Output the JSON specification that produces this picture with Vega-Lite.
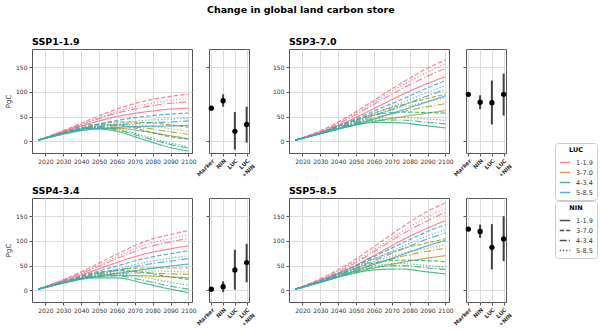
{
"$schema":"https://vega.github.io/schema/vega-lite/v6.json",
"padding":{"left":4,"top":4,"right":0,"bottom":0},
"title":{"text":"Change in global land carbon store","fontSize":9.5,"fontWeight":"bold","anchor":"middle","frame":"bounds","offset":22,"color":"#000"},
"config":{
"font":"DejaVu Sans",
"view":{"stroke":"#555","strokeWidth":1},
"axis":{"labelFontSize":6,"labelColor":"#333","domain":false,"grid":true,"gridColor":"#dcdcdc","gridWidth":1,"tickColor":"#555","tickSize":3,"labelPadding":2,"titleFontSize":7,"titleFontWeight":"normal","titleColor":"#333"},
"title":{"fontSize":9.5,"fontWeight":"bold","anchor":"start","frame":"group","offset":3,"color":"#000"},
"legend":{"orient":"none","strokeColor":"#cccccc","fillColor":"white","padding":4,"cornerRadius":3,"titleFontSize":6.5,"titleFontWeight":"bold","titleAnchor":"middle","titlePadding":3,"labelFontSize":6.5,"labelColor":"#333","labelOffset":5,"symbolType":"stroke","symbolSize":110,"symbolStrokeWidth":1.5,"rowPadding":0}
},
"datasets":{
"lines":[
{"ssp":"SSP1-1.9","luc":"1-1.9","nin":"1-1.9","year":2016,"pgc":2},{"ssp":"SSP1-1.9","luc":"1-1.9","nin":"1-1.9","year":2030,"pgc":19},{"ssp":"SSP1-1.9","luc":"1-1.9","nin":"1-1.9","year":2045,"pgc":36},{"ssp":"SSP1-1.9","luc":"1-1.9","nin":"1-1.9","year":2060,"pgc":50},{"ssp":"SSP1-1.9","luc":"1-1.9","nin":"1-1.9","year":2075,"pgc":59},{"ssp":"SSP1-1.9","luc":"1-1.9","nin":"1-1.9","year":2090,"pgc":65},{"ssp":"SSP1-1.9","luc":"1-1.9","nin":"1-1.9","year":2100,"pgc":67},
{"ssp":"SSP1-1.9","luc":"1-1.9","nin":"3-7.0","year":2016,"pgc":2},{"ssp":"SSP1-1.9","luc":"1-1.9","nin":"3-7.0","year":2030,"pgc":21},{"ssp":"SSP1-1.9","luc":"1-1.9","nin":"3-7.0","year":2045,"pgc":44},{"ssp":"SSP1-1.9","luc":"1-1.9","nin":"3-7.0","year":2060,"pgc":65},{"ssp":"SSP1-1.9","luc":"1-1.9","nin":"3-7.0","year":2075,"pgc":81},{"ssp":"SSP1-1.9","luc":"1-1.9","nin":"3-7.0","year":2090,"pgc":91},{"ssp":"SSP1-1.9","luc":"1-1.9","nin":"3-7.0","year":2100,"pgc":95},
{"ssp":"SSP1-1.9","luc":"1-1.9","nin":"4-3.4","year":2016,"pgc":2},{"ssp":"SSP1-1.9","luc":"1-1.9","nin":"4-3.4","year":2030,"pgc":20},{"ssp":"SSP1-1.9","luc":"1-1.9","nin":"4-3.4","year":2045,"pgc":40},{"ssp":"SSP1-1.9","luc":"1-1.9","nin":"4-3.4","year":2060,"pgc":57},{"ssp":"SSP1-1.9","luc":"1-1.9","nin":"4-3.4","year":2075,"pgc":69},{"ssp":"SSP1-1.9","luc":"1-1.9","nin":"4-3.4","year":2090,"pgc":77},{"ssp":"SSP1-1.9","luc":"1-1.9","nin":"4-3.4","year":2100,"pgc":80},
{"ssp":"SSP1-1.9","luc":"1-1.9","nin":"5-8.5","year":2016,"pgc":2},{"ssp":"SSP1-1.9","luc":"1-1.9","nin":"5-8.5","year":2030,"pgc":21},{"ssp":"SSP1-1.9","luc":"1-1.9","nin":"5-8.5","year":2045,"pgc":41},{"ssp":"SSP1-1.9","luc":"1-1.9","nin":"5-8.5","year":2060,"pgc":60},{"ssp":"SSP1-1.9","luc":"1-1.9","nin":"5-8.5","year":2075,"pgc":74},{"ssp":"SSP1-1.9","luc":"1-1.9","nin":"5-8.5","year":2090,"pgc":83},{"ssp":"SSP1-1.9","luc":"1-1.9","nin":"5-8.5","year":2100,"pgc":86},
{"ssp":"SSP1-1.9","luc":"3-7.0","nin":"1-1.9","year":2016,"pgc":2},{"ssp":"SSP1-1.9","luc":"3-7.0","nin":"1-1.9","year":2030,"pgc":14},{"ssp":"SSP1-1.9","luc":"3-7.0","nin":"1-1.9","year":2045,"pgc":24},{"ssp":"SSP1-1.9","luc":"3-7.0","nin":"1-1.9","year":2060,"pgc":26},{"ssp":"SSP1-1.9","luc":"3-7.0","nin":"1-1.9","year":2075,"pgc":20},{"ssp":"SSP1-1.9","luc":"3-7.0","nin":"1-1.9","year":2090,"pgc":11},{"ssp":"SSP1-1.9","luc":"3-7.0","nin":"1-1.9","year":2100,"pgc":5},
{"ssp":"SSP1-1.9","luc":"3-7.0","nin":"3-7.0","year":2016,"pgc":2},{"ssp":"SSP1-1.9","luc":"3-7.0","nin":"3-7.0","year":2030,"pgc":16},{"ssp":"SSP1-1.9","luc":"3-7.0","nin":"3-7.0","year":2045,"pgc":30},{"ssp":"SSP1-1.9","luc":"3-7.0","nin":"3-7.0","year":2060,"pgc":39},{"ssp":"SSP1-1.9","luc":"3-7.0","nin":"3-7.0","year":2075,"pgc":38},{"ssp":"SSP1-1.9","luc":"3-7.0","nin":"3-7.0","year":2090,"pgc":33},{"ssp":"SSP1-1.9","luc":"3-7.0","nin":"3-7.0","year":2100,"pgc":28},
{"ssp":"SSP1-1.9","luc":"3-7.0","nin":"4-3.4","year":2016,"pgc":2},{"ssp":"SSP1-1.9","luc":"3-7.0","nin":"4-3.4","year":2030,"pgc":15},{"ssp":"SSP1-1.9","luc":"3-7.0","nin":"4-3.4","year":2045,"pgc":27},{"ssp":"SSP1-1.9","luc":"3-7.0","nin":"4-3.4","year":2060,"pgc":31},{"ssp":"SSP1-1.9","luc":"3-7.0","nin":"4-3.4","year":2075,"pgc":27},{"ssp":"SSP1-1.9","luc":"3-7.0","nin":"4-3.4","year":2090,"pgc":19},{"ssp":"SSP1-1.9","luc":"3-7.0","nin":"4-3.4","year":2100,"pgc":14},
{"ssp":"SSP1-1.9","luc":"3-7.0","nin":"5-8.5","year":2016,"pgc":2},{"ssp":"SSP1-1.9","luc":"3-7.0","nin":"5-8.5","year":2030,"pgc":15},{"ssp":"SSP1-1.9","luc":"3-7.0","nin":"5-8.5","year":2045,"pgc":28},{"ssp":"SSP1-1.9","luc":"3-7.0","nin":"5-8.5","year":2060,"pgc":34},{"ssp":"SSP1-1.9","luc":"3-7.0","nin":"5-8.5","year":2075,"pgc":32},{"ssp":"SSP1-1.9","luc":"3-7.0","nin":"5-8.5","year":2090,"pgc":25},{"ssp":"SSP1-1.9","luc":"3-7.0","nin":"5-8.5","year":2100,"pgc":20},
{"ssp":"SSP1-1.9","luc":"4-3.4","nin":"1-1.9","year":2016,"pgc":2},{"ssp":"SSP1-1.9","luc":"4-3.4","nin":"1-1.9","year":2030,"pgc":16},{"ssp":"SSP1-1.9","luc":"4-3.4","nin":"1-1.9","year":2045,"pgc":26},{"ssp":"SSP1-1.9","luc":"4-3.4","nin":"1-1.9","year":2060,"pgc":20},{"ssp":"SSP1-1.9","luc":"4-3.4","nin":"1-1.9","year":2075,"pgc":3},{"ssp":"SSP1-1.9","luc":"4-3.4","nin":"1-1.9","year":2090,"pgc":-13},{"ssp":"SSP1-1.9","luc":"4-3.4","nin":"1-1.9","year":2100,"pgc":-20},
{"ssp":"SSP1-1.9","luc":"4-3.4","nin":"3-7.0","year":2016,"pgc":2},{"ssp":"SSP1-1.9","luc":"4-3.4","nin":"3-7.0","year":2030,"pgc":18},{"ssp":"SSP1-1.9","luc":"4-3.4","nin":"3-7.0","year":2045,"pgc":33},{"ssp":"SSP1-1.9","luc":"4-3.4","nin":"3-7.0","year":2060,"pgc":33},{"ssp":"SSP1-1.9","luc":"4-3.4","nin":"3-7.0","year":2075,"pgc":22},{"ssp":"SSP1-1.9","luc":"4-3.4","nin":"3-7.0","year":2090,"pgc":9},{"ssp":"SSP1-1.9","luc":"4-3.4","nin":"3-7.0","year":2100,"pgc":4},
{"ssp":"SSP1-1.9","luc":"4-3.4","nin":"4-3.4","year":2016,"pgc":2},{"ssp":"SSP1-1.9","luc":"4-3.4","nin":"4-3.4","year":2030,"pgc":16},{"ssp":"SSP1-1.9","luc":"4-3.4","nin":"4-3.4","year":2045,"pgc":28},{"ssp":"SSP1-1.9","luc":"4-3.4","nin":"4-3.4","year":2060,"pgc":23},{"ssp":"SSP1-1.9","luc":"4-3.4","nin":"4-3.4","year":2075,"pgc":8},{"ssp":"SSP1-1.9","luc":"4-3.4","nin":"4-3.4","year":2090,"pgc":-7},{"ssp":"SSP1-1.9","luc":"4-3.4","nin":"4-3.4","year":2100,"pgc":-14},
{"ssp":"SSP1-1.9","luc":"4-3.4","nin":"5-8.5","year":2016,"pgc":2},{"ssp":"SSP1-1.9","luc":"4-3.4","nin":"5-8.5","year":2030,"pgc":17},{"ssp":"SSP1-1.9","luc":"4-3.4","nin":"5-8.5","year":2045,"pgc":29},{"ssp":"SSP1-1.9","luc":"4-3.4","nin":"5-8.5","year":2060,"pgc":25},{"ssp":"SSP1-1.9","luc":"4-3.4","nin":"5-8.5","year":2075,"pgc":11},{"ssp":"SSP1-1.9","luc":"4-3.4","nin":"5-8.5","year":2090,"pgc":-4},{"ssp":"SSP1-1.9","luc":"4-3.4","nin":"5-8.5","year":2100,"pgc":-10},
{"ssp":"SSP1-1.9","luc":"5-8.5","nin":"1-1.9","year":2016,"pgc":2},{"ssp":"SSP1-1.9","luc":"5-8.5","nin":"1-1.9","year":2030,"pgc":15},{"ssp":"SSP1-1.9","luc":"5-8.5","nin":"1-1.9","year":2045,"pgc":24},{"ssp":"SSP1-1.9","luc":"5-8.5","nin":"1-1.9","year":2060,"pgc":28},{"ssp":"SSP1-1.9","luc":"5-8.5","nin":"1-1.9","year":2075,"pgc":30},{"ssp":"SSP1-1.9","luc":"5-8.5","nin":"1-1.9","year":2090,"pgc":31},{"ssp":"SSP1-1.9","luc":"5-8.5","nin":"1-1.9","year":2100,"pgc":32},
{"ssp":"SSP1-1.9","luc":"5-8.5","nin":"3-7.0","year":2016,"pgc":2},{"ssp":"SSP1-1.9","luc":"5-8.5","nin":"3-7.0","year":2030,"pgc":17},{"ssp":"SSP1-1.9","luc":"5-8.5","nin":"3-7.0","year":2045,"pgc":31},{"ssp":"SSP1-1.9","luc":"5-8.5","nin":"3-7.0","year":2060,"pgc":42},{"ssp":"SSP1-1.9","luc":"5-8.5","nin":"3-7.0","year":2075,"pgc":50},{"ssp":"SSP1-1.9","luc":"5-8.5","nin":"3-7.0","year":2090,"pgc":55},{"ssp":"SSP1-1.9","luc":"5-8.5","nin":"3-7.0","year":2100,"pgc":57},
{"ssp":"SSP1-1.9","luc":"5-8.5","nin":"4-3.4","year":2016,"pgc":2},{"ssp":"SSP1-1.9","luc":"5-8.5","nin":"4-3.4","year":2030,"pgc":16},{"ssp":"SSP1-1.9","luc":"5-8.5","nin":"4-3.4","year":2045,"pgc":27},{"ssp":"SSP1-1.9","luc":"5-8.5","nin":"4-3.4","year":2060,"pgc":33},{"ssp":"SSP1-1.9","luc":"5-8.5","nin":"4-3.4","year":2075,"pgc":37},{"ssp":"SSP1-1.9","luc":"5-8.5","nin":"4-3.4","year":2090,"pgc":39},{"ssp":"SSP1-1.9","luc":"5-8.5","nin":"4-3.4","year":2100,"pgc":41},
{"ssp":"SSP1-1.9","luc":"5-8.5","nin":"5-8.5","year":2016,"pgc":2},{"ssp":"SSP1-1.9","luc":"5-8.5","nin":"5-8.5","year":2030,"pgc":16},{"ssp":"SSP1-1.9","luc":"5-8.5","nin":"5-8.5","year":2045,"pgc":28},{"ssp":"SSP1-1.9","luc":"5-8.5","nin":"5-8.5","year":2060,"pgc":36},{"ssp":"SSP1-1.9","luc":"5-8.5","nin":"5-8.5","year":2075,"pgc":42},{"ssp":"SSP1-1.9","luc":"5-8.5","nin":"5-8.5","year":2090,"pgc":45},{"ssp":"SSP1-1.9","luc":"5-8.5","nin":"5-8.5","year":2100,"pgc":47},

{"ssp":"SSP3-7.0","luc":"1-1.9","nin":"1-1.9","year":2016,"pgc":2},{"ssp":"SSP3-7.0","luc":"1-1.9","nin":"1-1.9","year":2030,"pgc":18},{"ssp":"SSP3-7.0","luc":"1-1.9","nin":"1-1.9","year":2045,"pgc":40},{"ssp":"SSP3-7.0","luc":"1-1.9","nin":"1-1.9","year":2060,"pgc":66},{"ssp":"SSP3-7.0","luc":"1-1.9","nin":"1-1.9","year":2075,"pgc":93},{"ssp":"SSP3-7.0","luc":"1-1.9","nin":"1-1.9","year":2090,"pgc":117},{"ssp":"SSP3-7.0","luc":"1-1.9","nin":"1-1.9","year":2100,"pgc":131},
{"ssp":"SSP3-7.0","luc":"1-1.9","nin":"3-7.0","year":2016,"pgc":2},{"ssp":"SSP3-7.0","luc":"1-1.9","nin":"3-7.0","year":2030,"pgc":21},{"ssp":"SSP3-7.0","luc":"1-1.9","nin":"3-7.0","year":2045,"pgc":49},{"ssp":"SSP3-7.0","luc":"1-1.9","nin":"3-7.0","year":2060,"pgc":83},{"ssp":"SSP3-7.0","luc":"1-1.9","nin":"3-7.0","year":2075,"pgc":117},{"ssp":"SSP3-7.0","luc":"1-1.9","nin":"3-7.0","year":2090,"pgc":148},{"ssp":"SSP3-7.0","luc":"1-1.9","nin":"3-7.0","year":2100,"pgc":165},
{"ssp":"SSP3-7.0","luc":"1-1.9","nin":"4-3.4","year":2016,"pgc":2},{"ssp":"SSP3-7.0","luc":"1-1.9","nin":"4-3.4","year":2030,"pgc":19},{"ssp":"SSP3-7.0","luc":"1-1.9","nin":"4-3.4","year":2045,"pgc":44},{"ssp":"SSP3-7.0","luc":"1-1.9","nin":"4-3.4","year":2060,"pgc":75},{"ssp":"SSP3-7.0","luc":"1-1.9","nin":"4-3.4","year":2075,"pgc":105},{"ssp":"SSP3-7.0","luc":"1-1.9","nin":"4-3.4","year":2090,"pgc":132},{"ssp":"SSP3-7.0","luc":"1-1.9","nin":"4-3.4","year":2100,"pgc":148},
{"ssp":"SSP3-7.0","luc":"1-1.9","nin":"5-8.5","year":2016,"pgc":2},{"ssp":"SSP3-7.0","luc":"1-1.9","nin":"5-8.5","year":2030,"pgc":20},{"ssp":"SSP3-7.0","luc":"1-1.9","nin":"5-8.5","year":2045,"pgc":47},{"ssp":"SSP3-7.0","luc":"1-1.9","nin":"5-8.5","year":2060,"pgc":79},{"ssp":"SSP3-7.0","luc":"1-1.9","nin":"5-8.5","year":2075,"pgc":112},{"ssp":"SSP3-7.0","luc":"1-1.9","nin":"5-8.5","year":2090,"pgc":140},{"ssp":"SSP3-7.0","luc":"1-1.9","nin":"5-8.5","year":2100,"pgc":157},
{"ssp":"SSP3-7.0","luc":"3-7.0","nin":"1-1.9","year":2016,"pgc":2},{"ssp":"SSP3-7.0","luc":"3-7.0","nin":"1-1.9","year":2030,"pgc":15},{"ssp":"SSP3-7.0","luc":"3-7.0","nin":"1-1.9","year":2045,"pgc":29},{"ssp":"SSP3-7.0","luc":"3-7.0","nin":"1-1.9","year":2060,"pgc":40},{"ssp":"SSP3-7.0","luc":"3-7.0","nin":"1-1.9","year":2075,"pgc":49},{"ssp":"SSP3-7.0","luc":"3-7.0","nin":"1-1.9","year":2090,"pgc":57},{"ssp":"SSP3-7.0","luc":"3-7.0","nin":"1-1.9","year":2100,"pgc":62},
{"ssp":"SSP3-7.0","luc":"3-7.0","nin":"3-7.0","year":2016,"pgc":2},{"ssp":"SSP3-7.0","luc":"3-7.0","nin":"3-7.0","year":2030,"pgc":18},{"ssp":"SSP3-7.0","luc":"3-7.0","nin":"3-7.0","year":2045,"pgc":37},{"ssp":"SSP3-7.0","luc":"3-7.0","nin":"3-7.0","year":2060,"pgc":57},{"ssp":"SSP3-7.0","luc":"3-7.0","nin":"3-7.0","year":2075,"pgc":73},{"ssp":"SSP3-7.0","luc":"3-7.0","nin":"3-7.0","year":2090,"pgc":87},{"ssp":"SSP3-7.0","luc":"3-7.0","nin":"3-7.0","year":2100,"pgc":95},
{"ssp":"SSP3-7.0","luc":"3-7.0","nin":"4-3.4","year":2016,"pgc":2},{"ssp":"SSP3-7.0","luc":"3-7.0","nin":"4-3.4","year":2030,"pgc":16},{"ssp":"SSP3-7.0","luc":"3-7.0","nin":"4-3.4","year":2045,"pgc":33},{"ssp":"SSP3-7.0","luc":"3-7.0","nin":"4-3.4","year":2060,"pgc":47},{"ssp":"SSP3-7.0","luc":"3-7.0","nin":"4-3.4","year":2075,"pgc":59},{"ssp":"SSP3-7.0","luc":"3-7.0","nin":"4-3.4","year":2090,"pgc":70},{"ssp":"SSP3-7.0","luc":"3-7.0","nin":"4-3.4","year":2100,"pgc":76},
{"ssp":"SSP3-7.0","luc":"3-7.0","nin":"5-8.5","year":2016,"pgc":2},{"ssp":"SSP3-7.0","luc":"3-7.0","nin":"5-8.5","year":2030,"pgc":17},{"ssp":"SSP3-7.0","luc":"3-7.0","nin":"5-8.5","year":2045,"pgc":36},{"ssp":"SSP3-7.0","luc":"3-7.0","nin":"5-8.5","year":2060,"pgc":53},{"ssp":"SSP3-7.0","luc":"3-7.0","nin":"5-8.5","year":2075,"pgc":68},{"ssp":"SSP3-7.0","luc":"3-7.0","nin":"5-8.5","year":2090,"pgc":80},{"ssp":"SSP3-7.0","luc":"3-7.0","nin":"5-8.5","year":2100,"pgc":88},
{"ssp":"SSP3-7.0","luc":"4-3.4","nin":"1-1.9","year":2016,"pgc":2},{"ssp":"SSP3-7.0","luc":"4-3.4","nin":"1-1.9","year":2030,"pgc":15},{"ssp":"SSP3-7.0","luc":"4-3.4","nin":"1-1.9","year":2045,"pgc":29},{"ssp":"SSP3-7.0","luc":"4-3.4","nin":"1-1.9","year":2060,"pgc":38},{"ssp":"SSP3-7.0","luc":"4-3.4","nin":"1-1.9","year":2075,"pgc":37},{"ssp":"SSP3-7.0","luc":"4-3.4","nin":"1-1.9","year":2090,"pgc":31},{"ssp":"SSP3-7.0","luc":"4-3.4","nin":"1-1.9","year":2100,"pgc":27},
{"ssp":"SSP3-7.0","luc":"4-3.4","nin":"3-7.0","year":2016,"pgc":2},{"ssp":"SSP3-7.0","luc":"4-3.4","nin":"3-7.0","year":2030,"pgc":17},{"ssp":"SSP3-7.0","luc":"4-3.4","nin":"3-7.0","year":2045,"pgc":37},{"ssp":"SSP3-7.0","luc":"4-3.4","nin":"3-7.0","year":2060,"pgc":53},{"ssp":"SSP3-7.0","luc":"4-3.4","nin":"3-7.0","year":2075,"pgc":59},{"ssp":"SSP3-7.0","luc":"4-3.4","nin":"3-7.0","year":2090,"pgc":58},{"ssp":"SSP3-7.0","luc":"4-3.4","nin":"3-7.0","year":2100,"pgc":57},
{"ssp":"SSP3-7.0","luc":"4-3.4","nin":"4-3.4","year":2016,"pgc":2},{"ssp":"SSP3-7.0","luc":"4-3.4","nin":"4-3.4","year":2030,"pgc":16},{"ssp":"SSP3-7.0","luc":"4-3.4","nin":"4-3.4","year":2045,"pgc":31},{"ssp":"SSP3-7.0","luc":"4-3.4","nin":"4-3.4","year":2060,"pgc":42},{"ssp":"SSP3-7.0","luc":"4-3.4","nin":"4-3.4","year":2075,"pgc":43},{"ssp":"SSP3-7.0","luc":"4-3.4","nin":"4-3.4","year":2090,"pgc":38},{"ssp":"SSP3-7.0","luc":"4-3.4","nin":"4-3.4","year":2100,"pgc":35},
{"ssp":"SSP3-7.0","luc":"4-3.4","nin":"5-8.5","year":2016,"pgc":2},{"ssp":"SSP3-7.0","luc":"4-3.4","nin":"5-8.5","year":2030,"pgc":16},{"ssp":"SSP3-7.0","luc":"4-3.4","nin":"5-8.5","year":2045,"pgc":33},{"ssp":"SSP3-7.0","luc":"4-3.4","nin":"5-8.5","year":2060,"pgc":45},{"ssp":"SSP3-7.0","luc":"4-3.4","nin":"5-8.5","year":2075,"pgc":48},{"ssp":"SSP3-7.0","luc":"4-3.4","nin":"5-8.5","year":2090,"pgc":45},{"ssp":"SSP3-7.0","luc":"4-3.4","nin":"5-8.5","year":2100,"pgc":42},
{"ssp":"SSP3-7.0","luc":"5-8.5","nin":"1-1.9","year":2016,"pgc":2},{"ssp":"SSP3-7.0","luc":"5-8.5","nin":"1-1.9","year":2030,"pgc":15},{"ssp":"SSP3-7.0","luc":"5-8.5","nin":"1-1.9","year":2045,"pgc":30},{"ssp":"SSP3-7.0","luc":"5-8.5","nin":"1-1.9","year":2060,"pgc":45},{"ssp":"SSP3-7.0","luc":"5-8.5","nin":"1-1.9","year":2075,"pgc":62},{"ssp":"SSP3-7.0","luc":"5-8.5","nin":"1-1.9","year":2090,"pgc":80},{"ssp":"SSP3-7.0","luc":"5-8.5","nin":"1-1.9","year":2100,"pgc":92},
{"ssp":"SSP3-7.0","luc":"5-8.5","nin":"3-7.0","year":2016,"pgc":2},{"ssp":"SSP3-7.0","luc":"5-8.5","nin":"3-7.0","year":2030,"pgc":17},{"ssp":"SSP3-7.0","luc":"5-8.5","nin":"3-7.0","year":2045,"pgc":38},{"ssp":"SSP3-7.0","luc":"5-8.5","nin":"3-7.0","year":2060,"pgc":61},{"ssp":"SSP3-7.0","luc":"5-8.5","nin":"3-7.0","year":2075,"pgc":84},{"ssp":"SSP3-7.0","luc":"5-8.5","nin":"3-7.0","year":2090,"pgc":108},{"ssp":"SSP3-7.0","luc":"5-8.5","nin":"3-7.0","year":2100,"pgc":123},
{"ssp":"SSP3-7.0","luc":"5-8.5","nin":"4-3.4","year":2016,"pgc":2},{"ssp":"SSP3-7.0","luc":"5-8.5","nin":"4-3.4","year":2030,"pgc":16},{"ssp":"SSP3-7.0","luc":"5-8.5","nin":"4-3.4","year":2045,"pgc":33},{"ssp":"SSP3-7.0","luc":"5-8.5","nin":"4-3.4","year":2060,"pgc":52},{"ssp":"SSP3-7.0","luc":"5-8.5","nin":"4-3.4","year":2075,"pgc":71},{"ssp":"SSP3-7.0","luc":"5-8.5","nin":"4-3.4","year":2090,"pgc":92},{"ssp":"SSP3-7.0","luc":"5-8.5","nin":"4-3.4","year":2100,"pgc":105},
{"ssp":"SSP3-7.0","luc":"5-8.5","nin":"5-8.5","year":2016,"pgc":2},{"ssp":"SSP3-7.0","luc":"5-8.5","nin":"5-8.5","year":2030,"pgc":17},{"ssp":"SSP3-7.0","luc":"5-8.5","nin":"5-8.5","year":2045,"pgc":35},{"ssp":"SSP3-7.0","luc":"5-8.5","nin":"5-8.5","year":2060,"pgc":56},{"ssp":"SSP3-7.0","luc":"5-8.5","nin":"5-8.5","year":2075,"pgc":77},{"ssp":"SSP3-7.0","luc":"5-8.5","nin":"5-8.5","year":2090,"pgc":99},{"ssp":"SSP3-7.0","luc":"5-8.5","nin":"5-8.5","year":2100,"pgc":113},

{"ssp":"SSP4-3.4","luc":"1-1.9","nin":"1-1.9","year":2016,"pgc":2},{"ssp":"SSP4-3.4","luc":"1-1.9","nin":"1-1.9","year":2030,"pgc":19},{"ssp":"SSP4-3.4","luc":"1-1.9","nin":"1-1.9","year":2045,"pgc":37},{"ssp":"SSP4-3.4","luc":"1-1.9","nin":"1-1.9","year":2060,"pgc":56},{"ssp":"SSP4-3.4","luc":"1-1.9","nin":"1-1.9","year":2075,"pgc":73},{"ssp":"SSP4-3.4","luc":"1-1.9","nin":"1-1.9","year":2090,"pgc":84},{"ssp":"SSP4-3.4","luc":"1-1.9","nin":"1-1.9","year":2100,"pgc":90},
{"ssp":"SSP4-3.4","luc":"1-1.9","nin":"3-7.0","year":2016,"pgc":2},{"ssp":"SSP4-3.4","luc":"1-1.9","nin":"3-7.0","year":2030,"pgc":21},{"ssp":"SSP4-3.4","luc":"1-1.9","nin":"3-7.0","year":2045,"pgc":46},{"ssp":"SSP4-3.4","luc":"1-1.9","nin":"3-7.0","year":2060,"pgc":73},{"ssp":"SSP4-3.4","luc":"1-1.9","nin":"3-7.0","year":2075,"pgc":98},{"ssp":"SSP4-3.4","luc":"1-1.9","nin":"3-7.0","year":2090,"pgc":113},{"ssp":"SSP4-3.4","luc":"1-1.9","nin":"3-7.0","year":2100,"pgc":121},
{"ssp":"SSP4-3.4","luc":"1-1.9","nin":"4-3.4","year":2016,"pgc":2},{"ssp":"SSP4-3.4","luc":"1-1.9","nin":"4-3.4","year":2030,"pgc":20},{"ssp":"SSP4-3.4","luc":"1-1.9","nin":"4-3.4","year":2045,"pgc":41},{"ssp":"SSP4-3.4","luc":"1-1.9","nin":"4-3.4","year":2060,"pgc":64},{"ssp":"SSP4-3.4","luc":"1-1.9","nin":"4-3.4","year":2075,"pgc":85},{"ssp":"SSP4-3.4","luc":"1-1.9","nin":"4-3.4","year":2090,"pgc":98},{"ssp":"SSP4-3.4","luc":"1-1.9","nin":"4-3.4","year":2100,"pgc":105},
{"ssp":"SSP4-3.4","luc":"1-1.9","nin":"5-8.5","year":2016,"pgc":2},{"ssp":"SSP4-3.4","luc":"1-1.9","nin":"5-8.5","year":2030,"pgc":21},{"ssp":"SSP4-3.4","luc":"1-1.9","nin":"5-8.5","year":2045,"pgc":43},{"ssp":"SSP4-3.4","luc":"1-1.9","nin":"5-8.5","year":2060,"pgc":68},{"ssp":"SSP4-3.4","luc":"1-1.9","nin":"5-8.5","year":2075,"pgc":91},{"ssp":"SSP4-3.4","luc":"1-1.9","nin":"5-8.5","year":2090,"pgc":105},{"ssp":"SSP4-3.4","luc":"1-1.9","nin":"5-8.5","year":2100,"pgc":112},
{"ssp":"SSP4-3.4","luc":"3-7.0","nin":"1-1.9","year":2016,"pgc":2},{"ssp":"SSP4-3.4","luc":"3-7.0","nin":"1-1.9","year":2030,"pgc":14},{"ssp":"SSP4-3.4","luc":"3-7.0","nin":"1-1.9","year":2045,"pgc":25},{"ssp":"SSP4-3.4","luc":"3-7.0","nin":"1-1.9","year":2060,"pgc":30},{"ssp":"SSP4-3.4","luc":"3-7.0","nin":"1-1.9","year":2075,"pgc":29},{"ssp":"SSP4-3.4","luc":"3-7.0","nin":"1-1.9","year":2090,"pgc":27},{"ssp":"SSP4-3.4","luc":"3-7.0","nin":"1-1.9","year":2100,"pgc":25},
{"ssp":"SSP4-3.4","luc":"3-7.0","nin":"3-7.0","year":2016,"pgc":2},{"ssp":"SSP4-3.4","luc":"3-7.0","nin":"3-7.0","year":2030,"pgc":16},{"ssp":"SSP4-3.4","luc":"3-7.0","nin":"3-7.0","year":2045,"pgc":31},{"ssp":"SSP4-3.4","luc":"3-7.0","nin":"3-7.0","year":2060,"pgc":41},{"ssp":"SSP4-3.4","luc":"3-7.0","nin":"3-7.0","year":2075,"pgc":45},{"ssp":"SSP4-3.4","luc":"3-7.0","nin":"3-7.0","year":2090,"pgc":45},{"ssp":"SSP4-3.4","luc":"3-7.0","nin":"3-7.0","year":2100,"pgc":45},
{"ssp":"SSP4-3.4","luc":"3-7.0","nin":"4-3.4","year":2016,"pgc":2},{"ssp":"SSP4-3.4","luc":"3-7.0","nin":"4-3.4","year":2030,"pgc":15},{"ssp":"SSP4-3.4","luc":"3-7.0","nin":"4-3.4","year":2045,"pgc":27},{"ssp":"SSP4-3.4","luc":"3-7.0","nin":"4-3.4","year":2060,"pgc":34},{"ssp":"SSP4-3.4","luc":"3-7.0","nin":"4-3.4","year":2075,"pgc":35},{"ssp":"SSP4-3.4","luc":"3-7.0","nin":"4-3.4","year":2090,"pgc":33},{"ssp":"SSP4-3.4","luc":"3-7.0","nin":"4-3.4","year":2100,"pgc":32},
{"ssp":"SSP4-3.4","luc":"3-7.0","nin":"5-8.5","year":2016,"pgc":2},{"ssp":"SSP4-3.4","luc":"3-7.0","nin":"5-8.5","year":2030,"pgc":15},{"ssp":"SSP4-3.4","luc":"3-7.0","nin":"5-8.5","year":2045,"pgc":29},{"ssp":"SSP4-3.4","luc":"3-7.0","nin":"5-8.5","year":2060,"pgc":37},{"ssp":"SSP4-3.4","luc":"3-7.0","nin":"5-8.5","year":2075,"pgc":39},{"ssp":"SSP4-3.4","luc":"3-7.0","nin":"5-8.5","year":2090,"pgc":38},{"ssp":"SSP4-3.4","luc":"3-7.0","nin":"5-8.5","year":2100,"pgc":37},
{"ssp":"SSP4-3.4","luc":"4-3.4","nin":"1-1.9","year":2016,"pgc":2},{"ssp":"SSP4-3.4","luc":"4-3.4","nin":"1-1.9","year":2030,"pgc":15},{"ssp":"SSP4-3.4","luc":"4-3.4","nin":"1-1.9","year":2045,"pgc":25},{"ssp":"SSP4-3.4","luc":"4-3.4","nin":"1-1.9","year":2060,"pgc":25},{"ssp":"SSP4-3.4","luc":"4-3.4","nin":"1-1.9","year":2075,"pgc":14},{"ssp":"SSP4-3.4","luc":"4-3.4","nin":"1-1.9","year":2090,"pgc":2},{"ssp":"SSP4-3.4","luc":"4-3.4","nin":"1-1.9","year":2100,"pgc":-5},
{"ssp":"SSP4-3.4","luc":"4-3.4","nin":"3-7.0","year":2016,"pgc":2},{"ssp":"SSP4-3.4","luc":"4-3.4","nin":"3-7.0","year":2030,"pgc":17},{"ssp":"SSP4-3.4","luc":"4-3.4","nin":"3-7.0","year":2045,"pgc":33},{"ssp":"SSP4-3.4","luc":"4-3.4","nin":"3-7.0","year":2060,"pgc":40},{"ssp":"SSP4-3.4","luc":"4-3.4","nin":"3-7.0","year":2075,"pgc":36},{"ssp":"SSP4-3.4","luc":"4-3.4","nin":"3-7.0","year":2090,"pgc":27},{"ssp":"SSP4-3.4","luc":"4-3.4","nin":"3-7.0","year":2100,"pgc":22},
{"ssp":"SSP4-3.4","luc":"4-3.4","nin":"4-3.4","year":2016,"pgc":2},{"ssp":"SSP4-3.4","luc":"4-3.4","nin":"4-3.4","year":2030,"pgc":16},{"ssp":"SSP4-3.4","luc":"4-3.4","nin":"4-3.4","year":2045,"pgc":27},{"ssp":"SSP4-3.4","luc":"4-3.4","nin":"4-3.4","year":2060,"pgc":29},{"ssp":"SSP4-3.4","luc":"4-3.4","nin":"4-3.4","year":2075,"pgc":20},{"ssp":"SSP4-3.4","luc":"4-3.4","nin":"4-3.4","year":2090,"pgc":8},{"ssp":"SSP4-3.4","luc":"4-3.4","nin":"4-3.4","year":2100,"pgc":2},
{"ssp":"SSP4-3.4","luc":"4-3.4","nin":"5-8.5","year":2016,"pgc":2},{"ssp":"SSP4-3.4","luc":"4-3.4","nin":"5-8.5","year":2030,"pgc":16},{"ssp":"SSP4-3.4","luc":"4-3.4","nin":"5-8.5","year":2045,"pgc":29},{"ssp":"SSP4-3.4","luc":"4-3.4","nin":"5-8.5","year":2060,"pgc":33},{"ssp":"SSP4-3.4","luc":"4-3.4","nin":"5-8.5","year":2075,"pgc":26},{"ssp":"SSP4-3.4","luc":"4-3.4","nin":"5-8.5","year":2090,"pgc":16},{"ssp":"SSP4-3.4","luc":"4-3.4","nin":"5-8.5","year":2100,"pgc":10},
{"ssp":"SSP4-3.4","luc":"5-8.5","nin":"1-1.9","year":2016,"pgc":2},{"ssp":"SSP4-3.4","luc":"5-8.5","nin":"1-1.9","year":2030,"pgc":15},{"ssp":"SSP4-3.4","luc":"5-8.5","nin":"1-1.9","year":2045,"pgc":26},{"ssp":"SSP4-3.4","luc":"5-8.5","nin":"1-1.9","year":2060,"pgc":34},{"ssp":"SSP4-3.4","luc":"5-8.5","nin":"1-1.9","year":2075,"pgc":42},{"ssp":"SSP4-3.4","luc":"5-8.5","nin":"1-1.9","year":2090,"pgc":49},{"ssp":"SSP4-3.4","luc":"5-8.5","nin":"1-1.9","year":2100,"pgc":53},
{"ssp":"SSP4-3.4","luc":"5-8.5","nin":"3-7.0","year":2016,"pgc":2},{"ssp":"SSP4-3.4","luc":"5-8.5","nin":"3-7.0","year":2030,"pgc":17},{"ssp":"SSP4-3.4","luc":"5-8.5","nin":"3-7.0","year":2045,"pgc":34},{"ssp":"SSP4-3.4","luc":"5-8.5","nin":"3-7.0","year":2060,"pgc":49},{"ssp":"SSP4-3.4","luc":"5-8.5","nin":"3-7.0","year":2075,"pgc":64},{"ssp":"SSP4-3.4","luc":"5-8.5","nin":"3-7.0","year":2090,"pgc":74},{"ssp":"SSP4-3.4","luc":"5-8.5","nin":"3-7.0","year":2100,"pgc":80},
{"ssp":"SSP4-3.4","luc":"5-8.5","nin":"4-3.4","year":2016,"pgc":2},{"ssp":"SSP4-3.4","luc":"5-8.5","nin":"4-3.4","year":2030,"pgc":16},{"ssp":"SSP4-3.4","luc":"5-8.5","nin":"4-3.4","year":2045,"pgc":29},{"ssp":"SSP4-3.4","luc":"5-8.5","nin":"4-3.4","year":2060,"pgc":40},{"ssp":"SSP4-3.4","luc":"5-8.5","nin":"4-3.4","year":2075,"pgc":51},{"ssp":"SSP4-3.4","luc":"5-8.5","nin":"4-3.4","year":2090,"pgc":59},{"ssp":"SSP4-3.4","luc":"5-8.5","nin":"4-3.4","year":2100,"pgc":64},
{"ssp":"SSP4-3.4","luc":"5-8.5","nin":"5-8.5","year":2016,"pgc":2},{"ssp":"SSP4-3.4","luc":"5-8.5","nin":"5-8.5","year":2030,"pgc":16},{"ssp":"SSP4-3.4","luc":"5-8.5","nin":"5-8.5","year":2045,"pgc":31},{"ssp":"SSP4-3.4","luc":"5-8.5","nin":"5-8.5","year":2060,"pgc":43},{"ssp":"SSP4-3.4","luc":"5-8.5","nin":"5-8.5","year":2075,"pgc":56},{"ssp":"SSP4-3.4","luc":"5-8.5","nin":"5-8.5","year":2090,"pgc":65},{"ssp":"SSP4-3.4","luc":"5-8.5","nin":"5-8.5","year":2100,"pgc":70},

{"ssp":"SSP5-8.5","luc":"1-1.9","nin":"1-1.9","year":2016,"pgc":2},{"ssp":"SSP5-8.5","luc":"1-1.9","nin":"1-1.9","year":2030,"pgc":20},{"ssp":"SSP5-8.5","luc":"1-1.9","nin":"1-1.9","year":2045,"pgc":42},{"ssp":"SSP5-8.5","luc":"1-1.9","nin":"1-1.9","year":2060,"pgc":70},{"ssp":"SSP5-8.5","luc":"1-1.9","nin":"1-1.9","year":2075,"pgc":100},{"ssp":"SSP5-8.5","luc":"1-1.9","nin":"1-1.9","year":2090,"pgc":126},{"ssp":"SSP5-8.5","luc":"1-1.9","nin":"1-1.9","year":2100,"pgc":141},
{"ssp":"SSP5-8.5","luc":"1-1.9","nin":"3-7.0","year":2016,"pgc":2},{"ssp":"SSP5-8.5","luc":"1-1.9","nin":"3-7.0","year":2030,"pgc":23},{"ssp":"SSP5-8.5","luc":"1-1.9","nin":"3-7.0","year":2045,"pgc":52},{"ssp":"SSP5-8.5","luc":"1-1.9","nin":"3-7.0","year":2060,"pgc":88},{"ssp":"SSP5-8.5","luc":"1-1.9","nin":"3-7.0","year":2075,"pgc":126},{"ssp":"SSP5-8.5","luc":"1-1.9","nin":"3-7.0","year":2090,"pgc":160},{"ssp":"SSP5-8.5","luc":"1-1.9","nin":"3-7.0","year":2100,"pgc":177},
{"ssp":"SSP5-8.5","luc":"1-1.9","nin":"4-3.4","year":2016,"pgc":2},{"ssp":"SSP5-8.5","luc":"1-1.9","nin":"4-3.4","year":2030,"pgc":21},{"ssp":"SSP5-8.5","luc":"1-1.9","nin":"4-3.4","year":2045,"pgc":46},{"ssp":"SSP5-8.5","luc":"1-1.9","nin":"4-3.4","year":2060,"pgc":78},{"ssp":"SSP5-8.5","luc":"1-1.9","nin":"4-3.4","year":2075,"pgc":112},{"ssp":"SSP5-8.5","luc":"1-1.9","nin":"4-3.4","year":2090,"pgc":141},{"ssp":"SSP5-8.5","luc":"1-1.9","nin":"4-3.4","year":2100,"pgc":158},
{"ssp":"SSP5-8.5","luc":"1-1.9","nin":"5-8.5","year":2016,"pgc":2},{"ssp":"SSP5-8.5","luc":"1-1.9","nin":"5-8.5","year":2030,"pgc":22},{"ssp":"SSP5-8.5","luc":"1-1.9","nin":"5-8.5","year":2045,"pgc":49},{"ssp":"SSP5-8.5","luc":"1-1.9","nin":"5-8.5","year":2060,"pgc":82},{"ssp":"SSP5-8.5","luc":"1-1.9","nin":"5-8.5","year":2075,"pgc":117},{"ssp":"SSP5-8.5","luc":"1-1.9","nin":"5-8.5","year":2090,"pgc":149},{"ssp":"SSP5-8.5","luc":"1-1.9","nin":"5-8.5","year":2100,"pgc":165},
{"ssp":"SSP5-8.5","luc":"3-7.0","nin":"1-1.9","year":2016,"pgc":2},{"ssp":"SSP5-8.5","luc":"3-7.0","nin":"1-1.9","year":2030,"pgc":16},{"ssp":"SSP5-8.5","luc":"3-7.0","nin":"1-1.9","year":2045,"pgc":32},{"ssp":"SSP5-8.5","luc":"3-7.0","nin":"1-1.9","year":2060,"pgc":45},{"ssp":"SSP5-8.5","luc":"3-7.0","nin":"1-1.9","year":2075,"pgc":56},{"ssp":"SSP5-8.5","luc":"3-7.0","nin":"1-1.9","year":2090,"pgc":65},{"ssp":"SSP5-8.5","luc":"3-7.0","nin":"1-1.9","year":2100,"pgc":70},
{"ssp":"SSP5-8.5","luc":"3-7.0","nin":"3-7.0","year":2016,"pgc":2},{"ssp":"SSP5-8.5","luc":"3-7.0","nin":"3-7.0","year":2030,"pgc":19},{"ssp":"SSP5-8.5","luc":"3-7.0","nin":"3-7.0","year":2045,"pgc":42},{"ssp":"SSP5-8.5","luc":"3-7.0","nin":"3-7.0","year":2060,"pgc":64},{"ssp":"SSP5-8.5","luc":"3-7.0","nin":"3-7.0","year":2075,"pgc":83},{"ssp":"SSP5-8.5","luc":"3-7.0","nin":"3-7.0","year":2090,"pgc":96},{"ssp":"SSP5-8.5","luc":"3-7.0","nin":"3-7.0","year":2100,"pgc":104},
{"ssp":"SSP5-8.5","luc":"3-7.0","nin":"4-3.4","year":2016,"pgc":2},{"ssp":"SSP5-8.5","luc":"3-7.0","nin":"4-3.4","year":2030,"pgc":17},{"ssp":"SSP5-8.5","luc":"3-7.0","nin":"4-3.4","year":2045,"pgc":36},{"ssp":"SSP5-8.5","luc":"3-7.0","nin":"4-3.4","year":2060,"pgc":53},{"ssp":"SSP5-8.5","luc":"3-7.0","nin":"4-3.4","year":2075,"pgc":68},{"ssp":"SSP5-8.5","luc":"3-7.0","nin":"4-3.4","year":2090,"pgc":79},{"ssp":"SSP5-8.5","luc":"3-7.0","nin":"4-3.4","year":2100,"pgc":85},
{"ssp":"SSP5-8.5","luc":"3-7.0","nin":"5-8.5","year":2016,"pgc":2},{"ssp":"SSP5-8.5","luc":"3-7.0","nin":"5-8.5","year":2030,"pgc":18},{"ssp":"SSP5-8.5","luc":"3-7.0","nin":"5-8.5","year":2045,"pgc":38},{"ssp":"SSP5-8.5","luc":"3-7.0","nin":"5-8.5","year":2060,"pgc":57},{"ssp":"SSP5-8.5","luc":"3-7.0","nin":"5-8.5","year":2075,"pgc":74},{"ssp":"SSP5-8.5","luc":"3-7.0","nin":"5-8.5","year":2090,"pgc":85},{"ssp":"SSP5-8.5","luc":"3-7.0","nin":"5-8.5","year":2100,"pgc":92},
{"ssp":"SSP5-8.5","luc":"4-3.4","nin":"1-1.9","year":2016,"pgc":2},{"ssp":"SSP5-8.5","luc":"4-3.4","nin":"1-1.9","year":2030,"pgc":16},{"ssp":"SSP5-8.5","luc":"4-3.4","nin":"1-1.9","year":2045,"pgc":31},{"ssp":"SSP5-8.5","luc":"4-3.4","nin":"1-1.9","year":2060,"pgc":41},{"ssp":"SSP5-8.5","luc":"4-3.4","nin":"1-1.9","year":2075,"pgc":43},{"ssp":"SSP5-8.5","luc":"4-3.4","nin":"1-1.9","year":2090,"pgc":37},{"ssp":"SSP5-8.5","luc":"4-3.4","nin":"1-1.9","year":2100,"pgc":33},
{"ssp":"SSP5-8.5","luc":"4-3.4","nin":"3-7.0","year":2016,"pgc":2},{"ssp":"SSP5-8.5","luc":"4-3.4","nin":"3-7.0","year":2030,"pgc":18},{"ssp":"SSP5-8.5","luc":"4-3.4","nin":"3-7.0","year":2045,"pgc":38},{"ssp":"SSP5-8.5","luc":"4-3.4","nin":"3-7.0","year":2060,"pgc":55},{"ssp":"SSP5-8.5","luc":"4-3.4","nin":"3-7.0","year":2075,"pgc":61},{"ssp":"SSP5-8.5","luc":"4-3.4","nin":"3-7.0","year":2090,"pgc":60},{"ssp":"SSP5-8.5","luc":"4-3.4","nin":"3-7.0","year":2100,"pgc":58},
{"ssp":"SSP5-8.5","luc":"4-3.4","nin":"4-3.4","year":2016,"pgc":2},{"ssp":"SSP5-8.5","luc":"4-3.4","nin":"4-3.4","year":2030,"pgc":17},{"ssp":"SSP5-8.5","luc":"4-3.4","nin":"4-3.4","year":2045,"pgc":33},{"ssp":"SSP5-8.5","luc":"4-3.4","nin":"4-3.4","year":2060,"pgc":46},{"ssp":"SSP5-8.5","luc":"4-3.4","nin":"4-3.4","year":2075,"pgc":50},{"ssp":"SSP5-8.5","luc":"4-3.4","nin":"4-3.4","year":2090,"pgc":45},{"ssp":"SSP5-8.5","luc":"4-3.4","nin":"4-3.4","year":2100,"pgc":42},
{"ssp":"SSP5-8.5","luc":"4-3.4","nin":"5-8.5","year":2016,"pgc":2},{"ssp":"SSP5-8.5","luc":"4-3.4","nin":"5-8.5","year":2030,"pgc":17},{"ssp":"SSP5-8.5","luc":"4-3.4","nin":"5-8.5","year":2045,"pgc":35},{"ssp":"SSP5-8.5","luc":"4-3.4","nin":"5-8.5","year":2060,"pgc":49},{"ssp":"SSP5-8.5","luc":"4-3.4","nin":"5-8.5","year":2075,"pgc":54},{"ssp":"SSP5-8.5","luc":"4-3.4","nin":"5-8.5","year":2090,"pgc":50},{"ssp":"SSP5-8.5","luc":"4-3.4","nin":"5-8.5","year":2100,"pgc":47},
{"ssp":"SSP5-8.5","luc":"5-8.5","nin":"1-1.9","year":2016,"pgc":2},{"ssp":"SSP5-8.5","luc":"5-8.5","nin":"1-1.9","year":2030,"pgc":16},{"ssp":"SSP5-8.5","luc":"5-8.5","nin":"1-1.9","year":2045,"pgc":34},{"ssp":"SSP5-8.5","luc":"5-8.5","nin":"1-1.9","year":2060,"pgc":52},{"ssp":"SSP5-8.5","luc":"5-8.5","nin":"1-1.9","year":2075,"pgc":71},{"ssp":"SSP5-8.5","luc":"5-8.5","nin":"1-1.9","year":2090,"pgc":90},{"ssp":"SSP5-8.5","luc":"5-8.5","nin":"1-1.9","year":2100,"pgc":101},
{"ssp":"SSP5-8.5","luc":"5-8.5","nin":"3-7.0","year":2016,"pgc":2},{"ssp":"SSP5-8.5","luc":"5-8.5","nin":"3-7.0","year":2030,"pgc":19},{"ssp":"SSP5-8.5","luc":"5-8.5","nin":"3-7.0","year":2045,"pgc":42},{"ssp":"SSP5-8.5","luc":"5-8.5","nin":"3-7.0","year":2060,"pgc":68},{"ssp":"SSP5-8.5","luc":"5-8.5","nin":"3-7.0","year":2075,"pgc":94},{"ssp":"SSP5-8.5","luc":"5-8.5","nin":"3-7.0","year":2090,"pgc":119},{"ssp":"SSP5-8.5","luc":"5-8.5","nin":"3-7.0","year":2100,"pgc":133},
{"ssp":"SSP5-8.5","luc":"5-8.5","nin":"4-3.4","year":2016,"pgc":2},{"ssp":"SSP5-8.5","luc":"5-8.5","nin":"4-3.4","year":2030,"pgc":17},{"ssp":"SSP5-8.5","luc":"5-8.5","nin":"4-3.4","year":2045,"pgc":38},{"ssp":"SSP5-8.5","luc":"5-8.5","nin":"4-3.4","year":2060,"pgc":60},{"ssp":"SSP5-8.5","luc":"5-8.5","nin":"4-3.4","year":2075,"pgc":82},{"ssp":"SSP5-8.5","luc":"5-8.5","nin":"4-3.4","year":2090,"pgc":104},{"ssp":"SSP5-8.5","luc":"5-8.5","nin":"4-3.4","year":2100,"pgc":116},
{"ssp":"SSP5-8.5","luc":"5-8.5","nin":"5-8.5","year":2016,"pgc":2},{"ssp":"SSP5-8.5","luc":"5-8.5","nin":"5-8.5","year":2030,"pgc":18},{"ssp":"SSP5-8.5","luc":"5-8.5","nin":"5-8.5","year":2045,"pgc":40},{"ssp":"SSP5-8.5","luc":"5-8.5","nin":"5-8.5","year":2060,"pgc":63},{"ssp":"SSP5-8.5","luc":"5-8.5","nin":"5-8.5","year":2075,"pgc":87},{"ssp":"SSP5-8.5","luc":"5-8.5","nin":"5-8.5","year":2090,"pgc":110},{"ssp":"SSP5-8.5","luc":"5-8.5","nin":"5-8.5","year":2100,"pgc":123}
],
"dots":[
{"ssp":"SSP1-1.9","metric":"Marker","mean":67,"lo":null,"hi":null},
{"ssp":"SSP1-1.9","metric":"NIN","mean":82,"lo":70,"hi":95},
{"ssp":"SSP1-1.9","metric":"LUC","mean":20,"lo":-17,"hi":59},
{"ssp":"SSP1-1.9","metric":"LUC+NIN","mean":34,"lo":-3,"hi":70},
{"ssp":"SSP3-7.0","metric":"Marker","mean":95,"lo":null,"hi":null},
{"ssp":"SSP3-7.0","metric":"NIN","mean":79,"lo":65,"hi":93},
{"ssp":"SSP3-7.0","metric":"LUC","mean":78,"lo":34,"hi":123},
{"ssp":"SSP3-7.0","metric":"LUC+NIN","mean":95,"lo":52,"hi":137},
{"ssp":"SSP4-3.4","metric":"Marker","mean":2,"lo":null,"hi":null},
{"ssp":"SSP4-3.4","metric":"NIN","mean":7,"lo":-4,"hi":18},
{"ssp":"SSP4-3.4","metric":"LUC","mean":41,"lo":1,"hi":82},
{"ssp":"SSP4-3.4","metric":"LUC+NIN","mean":56,"lo":16,"hi":94},
{"ssp":"SSP5-8.5","metric":"Marker","mean":124,"lo":null,"hi":null},
{"ssp":"SSP5-8.5","metric":"NIN","mean":119,"lo":106,"hi":133},
{"ssp":"SSP5-8.5","metric":"LUC","mean":87,"lo":42,"hi":134},
{"ssp":"SSP5-8.5","metric":"LUC+NIN","mean":104,"lo":59,"hi":150}
]
},
"vconcat":[
{"hconcat":[
 {"hconcat":[
  {"title":"SSP1-1.9","width":160,"height":104,"data":{"name":"lines"},"transform":[{"filter":"datum.ssp == 'SSP1-1.9'"}],
   "mark":{"type":"line","strokeWidth":1.2,"interpolate":"monotone","opacity":0.85},
   "encoding":{
    "x":{"field":"year","type":"quantitative","scale":{"domain":[2012.5,2102],"nice":false,"zero":false},"axis":{"values":[2020,2030,2040,2050,2060,2070,2080,2090,2100],"format":"d","title":null}},
    "y":{"field":"pgc","type":"quantitative","scale":{"domain":[-24,187],"nice":false},"axis":{"values":[0,50,100,150],"title":"PgC"}},
    "color":{"field":"luc","type":"nominal","scale":{"domain":["1-1.9","3-7.0","4-3.4","5-8.5"],"range":["#f77189","#ae9d31","#33b07a","#38a9c5"]},"legend":{"title":"LUC","legendX":523,"legendY":94,"symbolDash":[1,0]}},
    "strokeDash":{"field":"nin","type":"nominal","scale":{"range":[[1,0],[4.5,2],[7,2,1.2,2],[1.2,2]]},"legend":{"title":"NIN","legendX":523,"legendY":152,"symbolStrokeColor":"#333"}}
   }},
  {"width":40,"height":104,"data":{"name":"dots"},"transform":[{"filter":"datum.ssp == 'SSP1-1.9'"}],
   "encoding":{"x":{"field":"metric","type":"nominal","sort":["Marker","NIN","LUC","LUC+NIN"],"scale":{"type":"point","padding":0.2},"axis":{"title":null,"labelAngle":-45,"labelFontWeight":"bold","labelFontSize":5.5,"labelExpr":"datum.value == 'LUC+NIN' ? ['LUC','+NIN'] : datum.value"}}},
   "layer":[
    {"mark":{"type":"rule","strokeWidth":2,"color":"#444"},"encoding":{"y":{"field":"lo","type":"quantitative","scale":{"domain":[-24,187],"nice":false},"axis":{"values":[0,50,100,150],"labels":false,"title":null}},"y2":{"field":"hi"}}},
    {"mark":{"type":"circle","size":28,"color":"#000","opacity":1},"encoding":{"y":{"field":"mean","type":"quantitative","scale":{"domain":[-24,187],"nice":false}}}}
   ]}
 ],"spacing":17,"bounds":"flush"},
 {"hconcat":[
  {"title":"SSP3-7.0","width":160,"height":104,"data":{"name":"lines"},"transform":[{"filter":"datum.ssp == 'SSP3-7.0'"}],
   "mark":{"type":"line","strokeWidth":1.2,"interpolate":"monotone","opacity":0.85},
   "encoding":{
    "x":{"field":"year","type":"quantitative","scale":{"domain":[2012.5,2102],"nice":false,"zero":false},"axis":{"values":[2020,2030,2040,2050,2060,2070,2080,2090,2100],"format":"d","title":null}},
    "y":{"field":"pgc","type":"quantitative","scale":{"domain":[-24,187],"nice":false},"axis":{"values":[0,50,100,150],"title":null}},
    "color":{"field":"luc","type":"nominal"},
    "strokeDash":{"field":"nin","type":"nominal"}
   }},
  {"width":40,"height":104,"data":{"name":"dots"},"transform":[{"filter":"datum.ssp == 'SSP3-7.0'"}],
   "encoding":{"x":{"field":"metric","type":"nominal","sort":["Marker","NIN","LUC","LUC+NIN"],"scale":{"type":"point","padding":0.2},"axis":{"title":null,"labelAngle":-45,"labelFontWeight":"bold","labelFontSize":5.5,"labelExpr":"datum.value == 'LUC+NIN' ? ['LUC','+NIN'] : datum.value"}}},
   "layer":[
    {"mark":{"type":"rule","strokeWidth":2,"color":"#444"},"encoding":{"y":{"field":"lo","type":"quantitative","scale":{"domain":[-24,187],"nice":false},"axis":{"values":[0,50,100,150],"labels":false,"title":null}},"y2":{"field":"hi"}}},
    {"mark":{"type":"circle","size":28,"color":"#000","opacity":1},"encoding":{"y":{"field":"mean","type":"quantitative","scale":{"domain":[-24,187],"nice":false}}}}
   ]}
 ],"spacing":17,"bounds":"flush"}
],"spacing":15},
{"hconcat":[
 {"hconcat":[
  {"title":"SSP4-3.4","width":160,"height":104,"data":{"name":"lines"},"transform":[{"filter":"datum.ssp == 'SSP4-3.4'"}],
   "mark":{"type":"line","strokeWidth":1.2,"interpolate":"monotone","opacity":0.85},
   "encoding":{
    "x":{"field":"year","type":"quantitative","scale":{"domain":[2012.5,2102],"nice":false,"zero":false},"axis":{"values":[2020,2030,2040,2050,2060,2070,2080,2090,2100],"format":"d","title":null}},
    "y":{"field":"pgc","type":"quantitative","scale":{"domain":[-24,187],"nice":false},"axis":{"values":[0,50,100,150],"title":"PgC"}},
    "color":{"field":"luc","type":"nominal"},
    "strokeDash":{"field":"nin","type":"nominal"}
   }},
  {"width":40,"height":104,"data":{"name":"dots"},"transform":[{"filter":"datum.ssp == 'SSP4-3.4'"}],
   "encoding":{"x":{"field":"metric","type":"nominal","sort":["Marker","NIN","LUC","LUC+NIN"],"scale":{"type":"point","padding":0.2},"axis":{"title":null,"labelAngle":-45,"labelFontWeight":"bold","labelFontSize":5.5,"labelExpr":"datum.value == 'LUC+NIN' ? ['LUC','+NIN'] : datum.value"}}},
   "layer":[
    {"mark":{"type":"rule","strokeWidth":2,"color":"#444"},"encoding":{"y":{"field":"lo","type":"quantitative","scale":{"domain":[-24,187],"nice":false},"axis":{"values":[0,50,100,150],"labels":false,"title":null}},"y2":{"field":"hi"}}},
    {"mark":{"type":"circle","size":28,"color":"#000","opacity":1},"encoding":{"y":{"field":"mean","type":"quantitative","scale":{"domain":[-24,187],"nice":false}}}}
   ]}
 ],"spacing":17,"bounds":"flush"},
 {"hconcat":[
  {"title":"SSP5-8.5","width":160,"height":104,"data":{"name":"lines"},"transform":[{"filter":"datum.ssp == 'SSP5-8.5'"}],
   "mark":{"type":"line","strokeWidth":1.2,"interpolate":"monotone","opacity":0.85},
   "encoding":{
    "x":{"field":"year","type":"quantitative","scale":{"domain":[2012.5,2102],"nice":false,"zero":false},"axis":{"values":[2020,2030,2040,2050,2060,2070,2080,2090,2100],"format":"d","title":null}},
    "y":{"field":"pgc","type":"quantitative","scale":{"domain":[-24,187],"nice":false},"axis":{"values":[0,50,100,150],"title":null}},
    "color":{"field":"luc","type":"nominal"},
    "strokeDash":{"field":"nin","type":"nominal"}
   }},
  {"width":40,"height":104,"data":{"name":"dots"},"transform":[{"filter":"datum.ssp == 'SSP5-8.5'"}],
   "encoding":{"x":{"field":"metric","type":"nominal","sort":["Marker","NIN","LUC","LUC+NIN"],"scale":{"type":"point","padding":0.2},"axis":{"title":null,"labelAngle":-45,"labelFontWeight":"bold","labelFontSize":5.5,"labelExpr":"datum.value == 'LUC+NIN' ? ['LUC','+NIN'] : datum.value"}}},
   "layer":[
    {"mark":{"type":"rule","strokeWidth":2,"color":"#444"},"encoding":{"y":{"field":"lo","type":"quantitative","scale":{"domain":[-24,187],"nice":false},"axis":{"values":[0,50,100,150],"labels":false,"title":null}},"y2":{"field":"hi"}}},
    {"mark":{"type":"circle","size":28,"color":"#000","opacity":1},"encoding":{"y":{"field":"mean","type":"quantitative","scale":{"domain":[-24,187],"nice":false}}}}
   ]}
 ],"spacing":17,"bounds":"flush"}
],"spacing":15}
],
"spacing":6
}
